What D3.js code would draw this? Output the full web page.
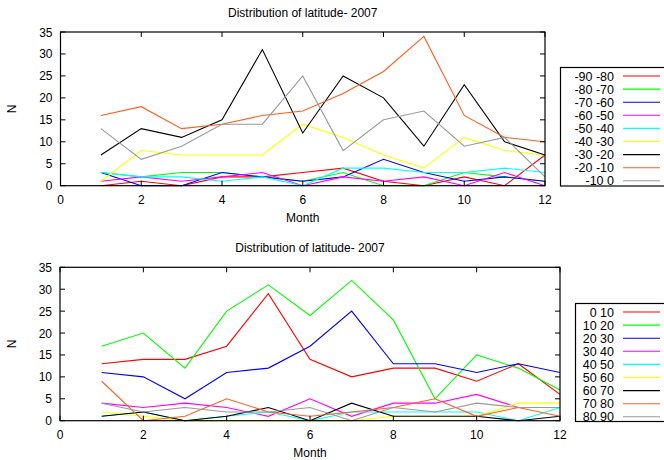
<!DOCTYPE html>
<html>
<head>
<meta charset="utf-8">
<script src="https://cdn.jsdelivr.net/npm/d3@7"></script>
<style>
  body { margin: 0; background: #fff; }
  svg { display: block; font-family: "Liberation Sans", Arial, sans-serif; }
</style>
</head>
<body>
<svg width="664" height="460"></svg>
<script>
const months = [1, 2, 3, 4, 5, 6, 7, 8, 9, 10, 11, 12];
const xTicks = [0, 2, 4, 6, 8, 10, 12];
const yTicks = [0, 5, 10, 15, 20, 25, 30, 35];
const colors = ["#ff0000", "#00ff00", "#0000ff", "#ff00ff", "#00ffff", "#ffff00", "#000000", "#ff5f1f", "#999999"];

const southNames = ["-90 -80", "-80 -70", "-70 -60", "-60 -50", "-50 -40", "-40 -30", "-30 -20", "-20 -10", "-10 0"];
const south = [
  [0, 1, 0, 2, 2, 3, 4, 1, 0, 2, 0, 7],
  [3, 2, 3, 3, 2, 1, 3, 0, 0, 3, 2, 1],
  [3, 0, 0, 3, 2, 1, 2, 6, 3, 1, 2, 1],
  [1, 2, 1, 2, 3, 0, 2, 1, 2, 0, 3, 0],
  [3, 2, 2, 1, 2, 0, 4, 4, 3, 3, 4, 3],
  [1, 8, 7, 7, 7, 14, 11, 7, 4, 11, 8, 7],
  [7, 13, 11, 15, 31, 12, 25, 20, 9, 23, 10, 7],
  [16, 18, 13, 14, 16, 17, 21, 26, 34, 16, 11, 10],
  [13, 6, 9, 14, 14, 25, 8, 15, 17, 9, 11, 2]
];

const northNames = ["0 10", "10 20", "20 30", "30 40", "40 50", "50 60", "60 70", "70 80", "80 90"];
const north = [
  [13, 14, 14, 17, 29, 14, 10, 12, 12, 9, 13, 6],
  [17, 20, 12, 25, 31, 24, 32, 23, 5, 15, 12, 7],
  [11, 10, 5, 11, 12, 17, 25, 13, 13, 11, 13, 11],
  [4, 3, 4, 3, 1, 5, 1, 4, 4, 6, 3, 3],
  [1, 2, 0, 1, 2, 0, 2, 2, 2, 2, 0, 3],
  [2, 1, 0, 0, 0, 0, 0, 1, 1, 1, 4, 4],
  [1, 2, 0, 1, 3, 0, 4, 1, 1, 1, 0, 1],
  [9, 0, 1, 5, 2, 1, 2, 3, 5, 1, 3, 1],
  [4, 2, 3, 2, 2, 3, 0, 3, 2, 4, 3, 3]
];

const svg = d3.select("svg");

function drawPanel(opts) {
  const { top, left, right, bottom, names, series, legend } = opts;
  const g = svg.append("g");
  const x = d3.scaleLinear().domain([0, 12]).range([left, right]);
  const y = d3.scaleLinear().domain([0, 35]).range([bottom, top]);
  const tl = 5;

  // title
  g.append("text")
    .attr("x", (left + right) / 2)
    .attr("y", top - 15.5)
    .attr("text-anchor", "middle")
    .attr("font-size", 12)
    .text("Distribution of latitude- 2007");

  // lines
  const line = d3.line().x((d, i) => x(months[i])).y(d => y(d));
  g.selectAll(".series")
    .data(series)
    .enter()
    .append("path")
    .attr("d", d => line(d))
    .attr("fill", "none")
    .attr("stroke", (d, i) => colors[i])
    .attr("stroke-width", 1.1);

  // frame + inward ticks on all sides
  g.append("rect")
    .attr("x", left).attr("y", top)
    .attr("width", right - left).attr("height", bottom - top)
    .attr("fill", "none").attr("stroke", "#000").attr("stroke-width", 1.2);

  xTicks.forEach(t => {
    g.append("line").attr("x1", x(t)).attr("x2", x(t)).attr("y1", bottom).attr("y2", bottom - tl).attr("stroke", "#000");
    g.append("line").attr("x1", x(t)).attr("x2", x(t)).attr("y1", top).attr("y2", top + tl).attr("stroke", "#000");
    g.append("text")
      .attr("x", x(t)).attr("y", bottom + 18)
      .attr("text-anchor", "middle").attr("font-size", 12)
      .text(t);
  });
  yTicks.forEach(t => {
    g.append("line").attr("x1", left).attr("x2", left + tl).attr("y1", y(t)).attr("y2", y(t)).attr("stroke", "#000");
    g.append("line").attr("x1", right).attr("x2", right - tl).attr("y1", y(t)).attr("y2", y(t)).attr("stroke", "#000");
    g.append("text")
      .attr("x", left - 8).attr("y", y(t) + 4.5)
      .attr("text-anchor", "end").attr("font-size", 12)
      .text(t);
  });

  // axis labels
  g.append("text")
    .attr("x", (left + right) / 2).attr("y", bottom + 36)
    .attr("text-anchor", "middle").attr("font-size", 12)
    .text("Month");
  g.append("text")
    .attr("transform", `translate(16,${(top + bottom) / 2}) rotate(-90)`)
    .attr("text-anchor", "middle").attr("font-size", 12)
    .text("N");

  // legend
  const lg = g.append("g");
  lg.append("rect")
    .attr("x", legend.x).attr("y", legend.y)
    .attr("width", 120).attr("height", legend.h)
    .attr("fill", "#fff").attr("stroke", "#000").attr("stroke-width", 1.2);
  names.forEach((n, i) => {
    const ry = legend.y + 8.5 + i * 13.1;
    lg.append("text")
      .attr("x", 614).attr("y", ry + 4.5)
      .attr("text-anchor", "end").attr("font-size", 12.5)
      .text(n);
    lg.append("line")
      .attr("x1", 623).attr("x2", 660).attr("y1", ry).attr("y2", ry)
      .attr("stroke", colors[i]).attr("stroke-width", 1.1);
  });
}

drawPanel({ top: 32, left: 60.5, right: 545, bottom: 185.7, names: southNames, series: south, legend: { x: 560.5, y: 67.5, h: 118.5 } });
drawPanel({ top: 267.3, left: 60, right: 560, bottom: 420.7, names: northNames, series: north, legend: { x: 575.5, y: 303.5, h: 118 } });
</script>
</body>
</html>
